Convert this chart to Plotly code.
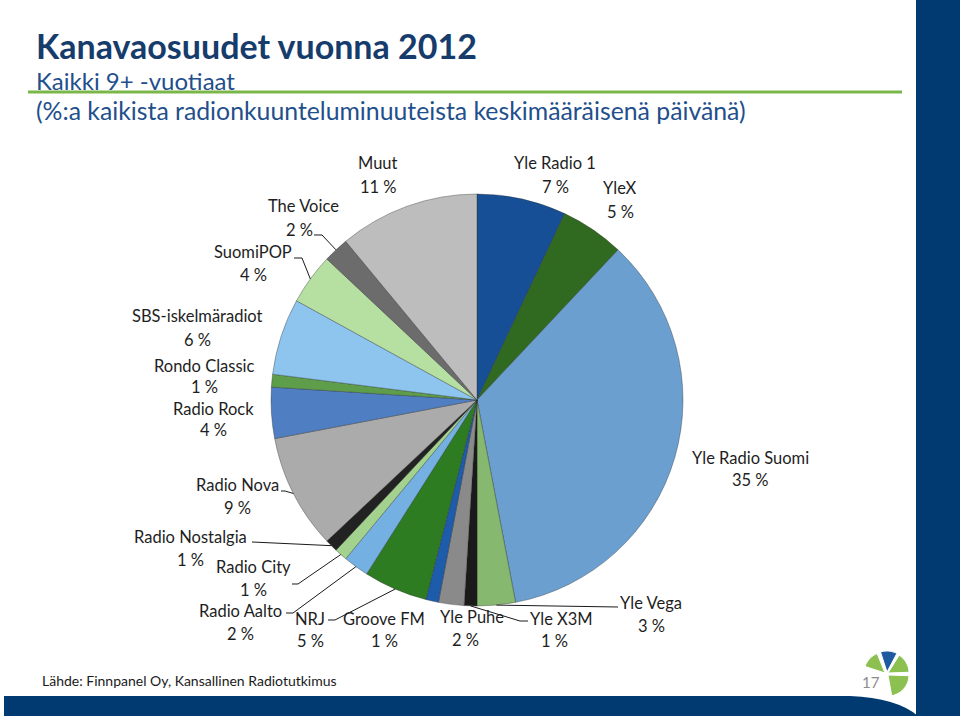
import math
import plotly.graph_objects as go

# ---------------- data ----------------
channels = ["Yle Radio 1", "YleX", "Yle Radio Suomi", "Yle Vega", "Yle X3M", "Yle Puhe",
            "Groove FM", "NRJ", "Radio Aalto", "Radio City", "Radio Nostalgia", "Radio Nova",
            "Radio Rock", "Rondo Classic", "SBS-iskelmäradiot", "SuomiPOP", "The Voice", "Muut"]
shares = [7, 5, 35, 3, 1, 2, 1, 5, 2, 1, 1, 9, 4, 1, 6, 4, 2, 11]
colors = ["#174f96", "#2f6a20", "#6a9fd0", "#86b870", "#1a1a1a", "#8a8a8a",
          "#1d5cab", "#2e7c22", "#74b0e2", "#a2d28e", "#222222", "#ababab",
          "#4f7fc2", "#5e9e4a", "#8dc5ef", "#b6dfa2", "#6c6c6c", "#bdbdbd"]

title = "Kanavaosuudet vuonna 2012"
subtitle1 = "Kaikki 9+ -vuotiaat"
subtitle2 = "(%:a kaikista radionkuunteluminuuteista keskimääräisenä päivänä)"
source = "Lähde: Finnpanel Oy, Kansallinen Radiotutkimus"
page_no = "17"

W, H = 960, 716
CX, CY, R = 477, 400, 206


def px(x):
    return x / W


def py(y):
    return 1 - y / H


fig = go.Figure()
fig.add_trace(go.Pie(
    labels=channels, values=shares, sort=False, direction="clockwise", rotation=0,
    marker=dict(colors=colors, line=dict(color="rgba(40,40,40,0.45)", width=0.8)),
    textinfo="none", hoverinfo="label+percent", showlegend=False,
    domain=dict(x=[px(CX - R), px(CX + R)], y=[py(CY + R), py(CY - R)]),
))


def edge_point(name, frac=0.5):
    i = channels.index(name)
    tot = sum(shares)
    start = sum(shares[:i])
    ang = (start + shares[i] * frac) / tot * 2 * math.pi
    return CX + R * math.sin(ang), CY - R * math.cos(ang)


# label layout: name -> (x, y of name line, y of percent line, x of percent line)
label_pos = {
    "Muut": (378, 163, 187, 378),
    "Yle Radio 1": (555, 163, 187, 555),
    "YleX": (620, 188, 212, 620),
    "The Voice": (303, 206, 230, 299),
    "SuomiPOP": (253, 252, 275, 253),
    "SBS-iskelmäradiot": (197, 316, 340, 197),
    "Rondo Classic": (204, 366, 387, 204),
    "Radio Rock": (213, 409, 430, 213),
    "Yle Radio Suomi": (750, 458, 480, 750),
    "Radio Nova": (237, 485, 508, 237),
    "Radio Nostalgia": (190, 537, 560, 190),
    "Radio City": (253, 567, 590, 253),
    "Radio Aalto": (240, 611, 634, 240),
    "NRJ": (310, 619, 641, 310),
    "Groove FM": (384, 619, 641, 384),
    "Yle Puhe": (472, 617, 640, 465),
    "Yle X3M": (561, 619, 641, 554),
    "Yle Vega": (651, 603, 626, 651),
}

annotations = []
font_lbl = dict(family="Lato", size=16.5, color="#1e1e1e")
for name, val in zip(channels, shares):
    x, y1, y2, x2 = label_pos[name]
    annotations.append(dict(x=px(x), y=py(y1), xref="paper", yref="paper", text=name,
                            showarrow=False, font=font_lbl, xanchor="center", yanchor="middle"))
    annotations.append(dict(x=px(x2), y=py(y2), xref="paper", yref="paper", text=f"{val} %",
                            showarrow=False, font=font_lbl, xanchor="center", yanchor="middle"))

# leader lines: name -> starting points near label
leaders = {
    "The Voice": [(314, 235), (322, 235)],
    "SuomiPOP": [(294, 258), (302, 258)],
    "Radio Nova": [(281, 491), (285, 491)],
    "Radio Nostalgia": [(252, 542)],
    "Radio City": [(292, 584), (298, 584)],
    "Radio Aalto": [(286, 613), (293, 613)],
    "NRJ": [(328, 620), (335, 620)],
    "Yle X3M": [(528, 621), (520, 621)],
    "Yle Vega": [(618, 607)],
}
shapes = []
for name, pts in leaders.items():
    ex, ey = edge_point(name)
    allp = pts + [(ex, ey)]
    path = "M " + " L ".join(f"{px(a):.5f},{py(b):.5f}" for a, b in allp)
    shapes.append(dict(type="path", path=path, xref="paper", yref="paper",
                       line=dict(color="#1a1a1a", width=1)))

# slide decorations
shapes.append(dict(type="rect", xref="paper", yref="paper", x0=px(916), x1=1, y0=0, y1=1,
                   fillcolor="#003a70", line=dict(width=0), layer="below"))
shapes.append(dict(type="path", xref="paper", yref="paper",
                   path=(f"M {px(4)},{py(696)} L {px(850)},{py(696)} "
                         f"Q {px(897)},{py(698)} {px(918)},{py(716)} L {px(4)},{py(716)} Z"),
                   fillcolor="#003a70", line=dict(width=0), layer="below"))
shapes.append(dict(type="line", xref="paper", yref="paper", x0=px(28), x1=px(902),
                   y0=py(92), y1=py(92), line=dict(color="#7ab648", width=3)))


# logo (small wedges)
def wedge(cx, cy, r, a0, a1, color):
    pts = [(cx, cy)]
    n = 12
    for k in range(n + 1):
        a = math.radians(a0 + (a1 - a0) * k / n)
        pts.append((cx + r * math.sin(a), cy - r * math.cos(a)))
    path = "M " + " L ".join(f"{px(a):.5f},{py(b):.5f}" for a, b in pts) + " Z"
    return dict(type="path", path=path, xref="paper", yref="paper", fillcolor=color,
                line=dict(color="white", width=1))


LX, LY, LR = 887, 673, 21
shapes.append(wedge(LX - 2, LY, LR, -72, -22, "#8cc152"))
shapes.append(wedge(LX, LY - 1, LR, -18, 28, "#1f5aa0"))
shapes.append(wedge(LX + 1, LY, LR, 32, 88, "#8cc152"))
shapes.append(wedge(LX + 1, LY + 2, LR, 92, 170, "#8cc152"))

annotations += [
    dict(x=px(34), y=py(45), xref="paper", yref="paper", text=f"<b>{title}</b>", showarrow=False,
         xanchor="left", yanchor="middle", font=dict(family="Lato", size=34, color="#163c6c")),
    dict(x=px(34), y=py(80), xref="paper", yref="paper", text=subtitle1, showarrow=False,
         xanchor="left", yanchor="middle", font=dict(family="Lato", size=24, color="#1f4f8c")),
    dict(x=px(34), y=py(110), xref="paper", yref="paper", text=subtitle2, showarrow=False,
         xanchor="left", yanchor="middle", font=dict(family="Lato", size=24.8, color="#1f4f8c")),
    dict(x=px(40), y=py(680), xref="paper", yref="paper", text=source, showarrow=False,
         xanchor="left", yanchor="middle", font=dict(family="Lato", size=14, color="#1a1a1a")),
    dict(x=px(871), y=py(682), xref="paper", yref="paper", text=page_no, showarrow=False,
         xanchor="center", yanchor="middle", font=dict(family="Lato", size=15, color="#8c8c8c")),
]

fig.update_layout(
    width=W, height=H, margin=dict(l=0, r=0, t=0, b=0),
    paper_bgcolor="white", plot_bgcolor="white",
    annotations=annotations, shapes=shapes, showlegend=False,
)
fig.write_html("out.html", config={"displayModeBar": False},
               post_script="document.body.style.margin='0';")
